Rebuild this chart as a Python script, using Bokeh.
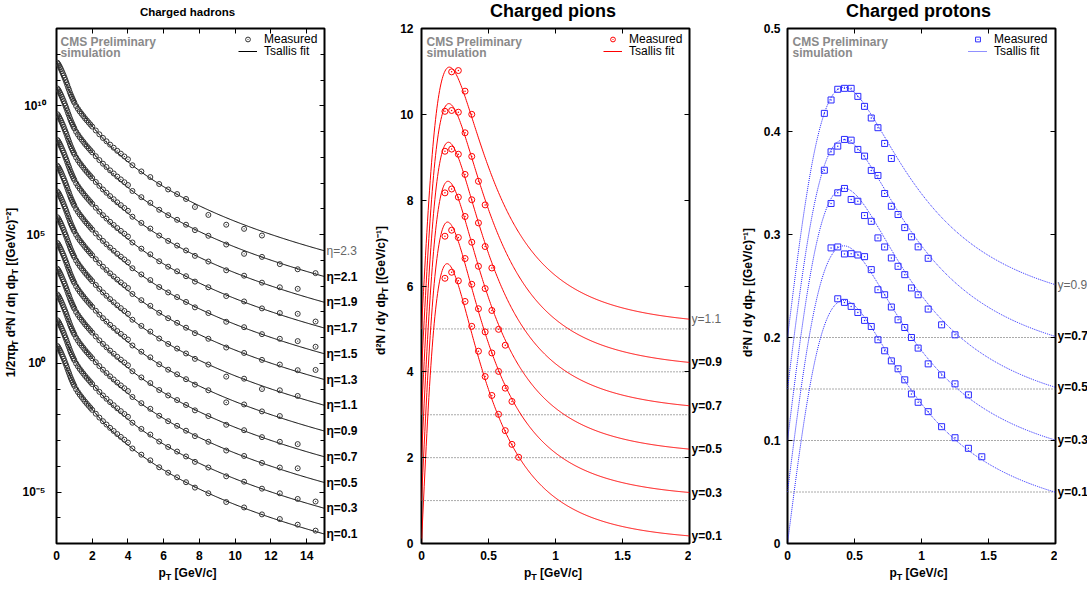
import numpy as np
from bokeh.plotting import figure
from bokeh.layouts import row, column
from bokeh.models import (Range1d, FixedTicker, LinearAxis, LogAxis, Label, Legend, LegendItem,
                          CustomJSTickFormatter)
from bokeh.embed import file_html
from bokeh.resources import INLINE

FONT = "Liberation Sans"

# ---------------- Charged hadrons (left) ----------------
hadron_eta_labels = ["η=0.1", "η=0.3", "η=0.5", "η=0.7", "η=0.9", "η=1.1",
                     "η=1.3", "η=1.5", "η=1.7", "η=1.9", "η=2.1", "η=2.3"]
hadron_decade_shift = [0, 1, 2, 3, 4, 5, 6, 7, 8, 9, 10, 11]
hadron_pt_dense = [0.05, 0.10, 0.15, 0.20, 0.25, 0.30, 0.35, 0.40, 0.45, 0.50,
                   0.55, 0.60, 0.65, 0.70, 0.75, 0.80, 0.85, 0.90, 0.95, 1.00,
                   1.1, 1.2, 1.3, 1.4, 1.5, 1.6, 1.7, 1.8, 1.9, 2.0,
                   2.2, 2.4, 2.6, 2.8, 3.0, 3.2, 3.4, 3.6, 3.8, 4.0]
hadron_log10_dense = [0.67, 0.62, 0.56, 0.49, 0.42, 0.34, 0.26, 0.18, 0.09, 0.00,
                      -0.09, -0.19, -0.29, -0.38, -0.48, -0.57, -0.65, -0.73, -0.81, -0.88,
                      -1.01, -1.12, -1.22, -1.31, -1.40, -1.49, -1.57, -1.65, -1.73, -1.81,
                      -1.96, -2.11, -2.25, -2.38, -2.51, -2.63, -2.75, -2.86, -2.97, -3.08]
hadron_pt_sparse = [4.25, 4.75, 5.25, 5.75, 6.25, 6.75, 7.25, 7.75, 8.5, 9.5,
                    10.5, 11.5, 12.5, 13.5, 14.5]
hadron_log10_sparse = [-3.31, -3.55, -3.77, -4.04, -4.25, -4.43, -4.62, -4.83, -5.05, -5.39,
                       -5.60, -5.87, -6.05, -6.27, -6.50]
N = None
# per-eta deviation (decades) of the sparse points, None = no point
hadron_dev_eta01 = [0, 0, 0, 0, 0, 0, 0, 0, 0, 0, 0, 0, 0, 0, 0]
hadron_dev_eta03 = [0, 0, 0, 0, 0, 0, 0, 0, 0, 0, 0, 0, 0, 0, 0.13]
hadron_dev_eta05 = [0, 0, 0, 0, 0, 0, 0, 0, 0, 0, 0, 0, 0, 0.19, N]
hadron_dev_eta07 = [0, 0, 0, 0, 0, 0, 0, 0, 0, 0, 0, 0, 0, 0.13, N]
hadron_dev_eta09 = [0, 0, 0, 0, 0, 0, 0, 0, 0, -0.13, 0, 0, 0, N, N]
hadron_dev_eta11 = [0, 0, 0, 0, 0, 0, 0, 0, 0, -0.13, 0, -0.13, 0, 0, N]
hadron_dev_eta13 = [0, 0, 0, 0, 0, 0, 0, 0, 0, 0, 0, 0, 0, 0, 0.24]
hadron_dev_eta15 = [0, 0, 0, 0, 0, 0, 0, 0, 0, 0, 0, 0, 0, 0.13, 0.14]
hadron_dev_eta17 = [0, 0, 0, 0, 0, 0, 0, 0, 0, 0, 0, 0, 0, 0.19, 0.12]
hadron_dev_eta19 = [0, 0, 0, 0, 0, 0, 0, 0, 0, 0, 0, 0, 0, 0.16, N]
hadron_dev_eta21 = [0, 0, 0, 0, 0, 0, 0, 0, 0, 0, -0.15, 0, -0.10, -0.08, 0]
hadron_dev_eta23 = [0, 0, 0, 0, 0, 0, 0, -0.10, -0.19, -0.23, -0.18, -0.17, N, N, N]
hadron_devs = [hadron_dev_eta01, hadron_dev_eta03, hadron_dev_eta05, hadron_dev_eta07,
               hadron_dev_eta09, hadron_dev_eta11, hadron_dev_eta13, hadron_dev_eta15,
               hadron_dev_eta17, hadron_dev_eta19, hadron_dev_eta21, hadron_dev_eta23]
hadron_fit_log10A = 0.71
hadron_fit_p0 = 1.7
hadron_fit_n = 7.4

hadron_x_ticks = [0, 2, 4, 6, 8, 10, 12, 14]
hadron_y_ticks = [1e-5, 1.0, 1e5, 1e10]
hadron_y_tick_labels = ["10⁻⁵", "10⁰", "10⁵", "10¹⁰"]

# ---------------- Charged pions (middle) ----------------
pion_labels = ["y=0.1", "y=0.3", "y=0.5", "y=0.7", "y=0.9", "y=1.1"]
pion_offset = [0, 1, 2, 3, 4, 5]
pion_pt_y01 = [0.175, 0.225, 0.275, 0.325, 0.375, 0.425, 0.475, 0.525, 0.575, 0.625, 0.675, 0.725]
pion_val_y01 = [6.18, 6.32, 6.12, 5.64, 5.06, 4.48, 3.89, 3.45, 3.01, 2.63, 2.31, 2.01]
pion_pt_y03 = [0.175, 0.225, 0.275, 0.325, 0.375, 0.425, 0.475, 0.525, 0.575, 0.625, 0.675]
pion_val_y03 = [6.16, 6.30, 6.13, 5.64, 5.04, 4.47, 3.93, 3.44, 3.01, 2.62, 2.31]
pion_pt_y05 = [0.175, 0.225, 0.275, 0.325, 0.375, 0.425, 0.475, 0.525, 0.575, 0.625]
pion_val_y05 = [6.17, 6.26, 6.07, 5.62, 5.02, 4.46, 3.94, 3.43, 2.99, 2.62]
pion_pt_y07 = [0.175, 0.225, 0.275, 0.325, 0.375, 0.425, 0.475, 0.525]
pion_val_y07 = [6.14, 6.19, 6.07, 5.60, 5.01, 4.47, 3.92, 3.42]
pion_pt_y09 = [0.175, 0.225, 0.275, 0.325, 0.375, 0.425, 0.475]
pion_val_y09 = [6.07, 6.09, 6.05, 5.57, 5.02, 4.44, 3.89]
pion_pt_y11 = [0.225, 0.275, 0.325, 0.375]
pion_val_y11 = [5.99, 6.02, 5.54, 5.00]
pion_pts = [pion_pt_y01, pion_pt_y03, pion_pt_y05, pion_pt_y07, pion_pt_y09, pion_pt_y11]
pion_vals = [pion_val_y01, pion_val_y03, pion_val_y05, pion_val_y07, pion_val_y09, pion_val_y11]
pion_fit_T = [0.135, 0.138, 0.141, 0.144, 0.147, 0.150]
pion_fit_n = 5.0
pion_fit_peak = [6.52, 6.49, 6.44, 6.35, 6.25, 6.10]
PION_MASS = 0.13957
pion_y_ticks = [0, 2, 4, 6, 8, 10, 12]

# ---------------- Charged protons (right) ----------------
proton_labels = ["y=0.1", "y=0.3", "y=0.5", "y=0.7", "y=0.9"]
proton_offset = [0.0, 0.05, 0.10, 0.15, 0.20]
proton_pt_y01 = [0.375, 0.425, 0.475, 0.525, 0.575, 0.625, 0.675, 0.725, 0.775, 0.825,
                 0.875, 0.925, 0.975, 1.05, 1.15, 1.25, 1.35, 1.45]
proton_val_y01 = [0.2376, 0.2341, 0.2302, 0.2243, 0.2166, 0.2107, 0.1978, 0.1871, 0.1773, 0.1696,
                  0.1589, 0.1452, 0.1371, 0.1280, 0.1134, 0.1027, 0.0924, 0.0842]
proton_pt_y03 = [0.325, 0.375, 0.425, 0.475, 0.525, 0.575, 0.625, 0.675, 0.725, 0.775,
                 0.825, 0.875, 0.925, 0.975, 1.05, 1.15, 1.25, 1.35]
proton_val_y03 = [0.2370, 0.2379, 0.2311, 0.2314, 0.2301, 0.2285, 0.2159, 0.1964, 0.1915, 0.1796,
                  0.1672, 0.1597, 0.1500, 0.1397, 0.1244, 0.1137, 0.1050, 0.0943]
proton_pt_y05 = [0.325, 0.375, 0.425, 0.475, 0.525, 0.575, 0.625, 0.675, 0.725, 0.775,
                 0.825, 0.875, 0.925, 0.975, 1.05, 1.15, 1.25]
proton_val_y05 = [0.2301, 0.2405, 0.2447, 0.2340, 0.2323, 0.2184, 0.2128, 0.1967, 0.1879, 0.1772,
                  0.1691, 0.1610, 0.1481, 0.1415, 0.1276, 0.1123, 0.1026]
proton_pt_y07 = [0.275, 0.325, 0.375, 0.425, 0.475, 0.525, 0.575, 0.625, 0.675, 0.725,
                 0.775, 0.825, 0.875, 0.925, 0.975, 1.05]
proton_val_y07 = [0.2124, 0.2303, 0.2358, 0.2423, 0.2416, 0.2326, 0.2261, 0.2122, 0.2073, 0.1898,
                  0.1774, 0.1694, 0.1567, 0.1477, 0.1380, 0.1269]
proton_pt_y09 = [0.275, 0.325, 0.375, 0.425, 0.475, 0.525, 0.575, 0.625, 0.675, 0.725, 0.775]
proton_val_y09 = [0.2176, 0.2306, 0.2410, 0.2419, 0.2419, 0.2341, 0.2244, 0.2131, 0.2037, 0.1884, 0.1738]
proton_pts = [proton_pt_y01, proton_pt_y03, proton_pt_y05, proton_pt_y07, proton_pt_y09]
proton_vals = [proton_val_y01, proton_val_y03, proton_val_y05, proton_val_y07, proton_val_y09]
proton_fit_T = 0.131
proton_fit_n = 2.2
proton_fit_peak = [0.236, 0.239, 0.245, 0.242, 0.243]
PROTON_MASS = 0.93827
proton_y_ticks = [0, 0.1, 0.2, 0.3, 0.4, 0.5]
proton_y_tick_labels = ["0", "0.1", "0.2", "0.3", "0.4", "0.5"]

pt_ticks = [0, 0.5, 1, 1.5, 2]
pt_tick_labels = ["0", "0.5", "1", "1.5", "2"]

# ---------------- page geometry (px) ----------------
PAGE_W = 1087
TITLE_H = 22            # title strip: page y 0..22
MID_TOP, MID_BOT = 22, 565
XLAB_H = 24             # x-label strip: page y 565..589
FRAME_W, FRAME_H = 268, 515
FRAME_TOP, FRAME_BOTTOM = 28, 543
BT, BB = FRAME_TOP - MID_TOP, MID_BOT - FRAME_BOTTOM
MID_SHIFT = 0.4         # text centre sits this many font sizes above the baseline

W_BOLD = {' ': 278, '(': 333, ')': 333, '/': 278, '[': 333, ']': 333, '-': 333, '.': 278,
          '=': 584, 'G': 778, 'e': 556, 'V': 667, 'c': 556, 'd': 611, 'N': 722, 'y': 556,
          'p': 611, 'T': 611, 'π': 600, 'η': 611, '²': 333, '¹': 333, '⁻': 333}


def text_w(s, size):
    return sum(W_BOLD.get(ch, 556) for ch in s) * size / 1000.0


def blank_fig(w, xr, yr, ylog=False, h=None, bt=0, bb=0):
    fh = h if h is not None else (MID_BOT - MID_TOP - bt - bb)
    p = figure(frame_width=w, frame_height=fh, min_border=0, min_border_left=0,
               min_border_right=0, min_border_top=bt, min_border_bottom=bb,
               x_range=Range1d(*xr), y_range=Range1d(*yr),
               y_axis_type="log" if ylog else "linear",
               x_axis_location=None, y_axis_location=None,
               output_backend="svg", toolbar_location=None)
    p.outline_line_color = None
    p.grid.visible = False
    p.background_fill_color = "white"
    p.border_fill_color = "white"
    return p


def make_fig(xr, yr, bl, br, page_frame_left, ylog=False):
    p = figure(frame_width=FRAME_W, frame_height=FRAME_H, min_border=0, min_border_left=bl,
               min_border_right=br, min_border_top=BT, min_border_bottom=BB,
               x_range=Range1d(*xr), y_range=Range1d(*yr),
               y_axis_type="log" if ylog else "linear",
               output_backend="svg", toolbar_location=None)
    p.outline_line_color = "black"
    p.outline_line_width = 2
    p.xgrid.visible = False
    p.ygrid.visible = False
    p.background_fill_color = "white"
    p.border_fill_color = "white"
    geo = dict(fl=page_frame_left, xr=xr, yr=yr, ylog=ylog)
    return p, geo


def to_data(g, px, py):
    x0, x1 = g["xr"]
    y0, y1 = g["yr"]
    x = x0 + (px - g["fl"]) / FRAME_W * (x1 - x0)
    t = (FRAME_BOTTOM - py) / FRAME_H
    if g["ylog"]:
        y = 10 ** (np.log10(y0) + t * (np.log10(y1) - np.log10(y0)))
    else:
        y = y0 + t * (y1 - y0)
    return x, y


def style_axis(ax, ticks, minor=None, overrides=None, labels=True, standoff=8):
    ax.ticker = FixedTicker(ticks=ticks, minor_ticks=minor or [])
    ax.axis_line_color = None
    ax.major_tick_in = 5
    ax.major_tick_out = 0
    ax.minor_tick_in = 4
    ax.minor_tick_out = 0
    ax.major_tick_line_color = "black"
    ax.minor_tick_line_color = "black"
    ax.major_label_text_font = FONT
    ax.major_label_text_font_style = "bold"
    ax.major_label_text_color = "black"
    ax.major_label_text_font_size = "12px"
    ax.major_label_standoff = standoff
    if overrides:
        ax.major_label_overrides = overrides
    if not labels:
        ax.formatter = CustomJSTickFormatter(code="return ''")
        ax.major_label_text_font_size = "1px"
        ax.major_label_standoff = 0


def frame_axes(p, xticks, yticks, xover=None, yover=None, yminor=None, ylog=False, ystand=8):
    style_axis(p.below[0], xticks, overrides=xover, standoff=7)
    style_axis(p.left[0], yticks, minor=yminor, overrides=yover, standoff=ystand)
    top = LinearAxis()
    style_axis(top, xticks, labels=False)
    p.add_layout(top, "above")
    right = LogAxis() if ylog else LinearAxis()
    style_axis(right, yticks, minor=yminor, labels=False)
    p.add_layout(right, "right")


def put(p, x, y, text, size=12, bold=True, color="black", align="left", angle=0.0):
    """Place a text whose visual centre line is at (x, y) (data units of p)."""
    p.add_layout(Label(x=x, y=y, text=text, text_font=FONT, text_font_size=f"{size}px",
                       text_font_style="bold" if bold else "normal",
                       text_color=color, text_align=align, text_baseline="middle",
                       angle=angle))


def hlabel(p, cx, base_y, pieces):
    total = sum(text_w(t, s) for t, s, d in pieces)
    x = cx - total / 2.0
    for t, s, d in pieces:
        lead = len(t) - len(t.lstrip(" "))
        x += text_w(" " * lead, s)
        put(p, x, base_y + d - MID_SHIFT * s, t.lstrip(" "), size=s)
        x += text_w(t.lstrip(" "), s)


def vlabel(p, base_x, cy, pieces):
    total = sum(text_w(t, s) for t, s, d in pieces)
    y = cy + total / 2.0
    for t, s, d in pieces:
        lead = len(t) - len(t.lstrip(" "))
        y -= text_w(" " * lead, s)
        put(p, base_x + d - MID_SHIFT * s, y, t.lstrip(" "), size=s, angle=np.pi / 2)
        y -= text_w(t.lstrip(" "), s)


def add_legend(p, marker_r, line_r, x_off, y_offs=(497, 485)):
    for r, lab, yo in [(marker_r, "Measured", y_offs[0]), (line_r, "Tsallis fit", y_offs[1])]:
        lg = Legend(items=[LegendItem(label=lab, renderers=[r])], location=(x_off, yo),
                    border_line_color=None, background_fill_alpha=0, padding=0, margin=0,
                    spacing=0, glyph_width=19, glyph_height=12, label_height=12,
                    label_standoff=7, label_text_font=FONT, label_text_font_size="12px",
                    label_text_color="black")
        p.add_layout(lg)


def cms_text(p, g, px):
    for base, t in [(46, "CMS Preliminary"), (57.5, "simulation")]:
        x, y = to_data(g, px, base - MID_SHIFT * 12)
        put(p, x, y, t, color="#8a8a8a")


def end_label(p, y, text, top):
    put(p, 0.0, y, text, bold=not top, color="#666666" if top else "black")


def tsallis_dndpt(pt, T, n, m):
    mt = np.sqrt(pt ** 2 + m ** 2)
    return pt * (1.0 + (mt - m) / (n * T)) ** (-n)


PT_PIECES = [("p", 12, 0), ("T", 9, 3), (" [GeV/c]", 12, 0)]

# ---------------- strips for texts outside the frames ----------------
title_strip = blank_fig(PAGE_W, (0, PAGE_W), (TITLE_H, 0), h=TITLE_H)
put(title_strip, 187, 11, "Charged hadrons", size=11.5, align="center")
put(title_strip, 552.5, 10.5, "Charged pions", size=18, align="center")
put(title_strip, 918, 10.5, "Charged protons", size=18, align="center")

xlab_strip = blank_fig(PAGE_W, (0, PAGE_W), (MID_BOT + XLAB_H, MID_BOT), h=XLAB_H)
for cx in (187, 552.5, 918):
    hlabel(xlab_strip, cx, 577, PT_PIECES)

yl1 = blank_fig(19, (0, 19), (MID_BOT, MID_TOP))
vlabel(yl1, 15.7, 286, [("1/2πp", 12, 0), ("T", 9, 2), (" d²N / dη dp", 12, 0),
                        ("T", 9, 2), (" [(GeV/c)⁻²]", 12, 0)])
yl2 = blank_fig(20, (370, 390), (MID_BOT, MID_TOP))
vlabel(yl2, 382, 284, [("d²N / dy dp", 12, 0), ("T", 9, 3), (" [(GeV/c)⁻¹]", 12, 0)])
yl3 = blank_fig(21, (736, 757), (MID_BOT, MID_TOP))
vlabel(yl3, 749, 286, [("d²N / dy dp", 12, 0), ("T", 9, 3), (" [(GeV/c)⁻¹]", 12, 0)])

# ---------------- left figure ----------------
p1, g1 = make_fig((0, 15), (1e-7, 1e13), 34, 2, 53, ylog=True)
rl1 = blank_fig(47, (0, 47), (1e-7, 1e13), ylog=True, bt=BT, bb=BB)
frame_axes(p1, hadron_x_ticks, hadron_y_ticks,
           yover=dict(zip(hadron_y_ticks, hadron_y_tick_labels)),
           yminor=[10.0 ** k for k in range(-7, 14)], ylog=True, ystand=11)
grid15 = np.linspace(0, 15, 301)
first_m = first_l = None
for i, sh in enumerate(hadron_decade_shift):
    fit = 10 ** (hadron_fit_log10A + sh) * (1 + grid15 / hadron_fit_p0) ** (-hadron_fit_n)
    lr = p1.line(grid15, fit, line_color="black", line_width=1)
    xs = list(hadron_pt_dense)
    ys = [10 ** (v + sh) for v in hadron_log10_dense]
    for pt, v, d in zip(hadron_pt_sparse, hadron_log10_sparse, hadron_devs[i]):
        if d is not None:
            xs.append(pt)
            ys.append(10 ** (v + d + sh))
    mr = p1.scatter(xs, ys, marker="circle_dot", size=5, line_color="#333333",
                    fill_color=None, line_width=1)
    if first_m is None:
        first_m, first_l = mr, lr
    end_label(rl1, fit[-1], hadron_eta_labels[i], i == len(hadron_decade_shift) - 1)
add_legend(p1, first_m, first_l, 182)
cms_text(p1, g1, 57)

# ---------------- middle figure ----------------
p2, g2 = make_fig((0, 2), (0, 12), 28, 2, 418)
rl2 = blank_fig(48, (0, 48), (0, 12), bt=BT, bb=BB)
frame_axes(p2, pt_ticks, pion_y_ticks, xover=dict(zip(pt_ticks, pt_tick_labels)))
grid2 = np.linspace(0, 2, 401)
for off in pion_offset[1:]:
    p2.line([0, 2], [off, off], line_color="#555555", line_width=1, line_dash="1 2")
first_m = first_l = None
for i, off in enumerate(pion_offset):
    shape = tsallis_dndpt(grid2, pion_fit_T[i], pion_fit_n, PION_MASS)
    fit = shape / shape.max() * pion_fit_peak[i] + off
    lr = p2.line(grid2, fit, line_color="#ff0000", line_width=1)
    mr = p2.scatter(pion_pts[i], [v + off for v in pion_vals[i]], marker="circle_dot", size=6,
                    line_color="#ff0000", fill_color=None, line_width=1)
    if first_m is None:
        first_m, first_l = mr, lr
    end_label(rl2, fit[-1], pion_labels[i], i == len(pion_offset) - 1)
add_legend(p2, first_m, first_l, 182)
cms_text(p2, g2, 423)

# ---------------- right figure ----------------
p3, g3 = make_fig((0, 2), (0, 0.5), 27, 2, 784)
rl3 = blank_fig(33, (0, 33), (0, 0.5), bt=BT, bb=BB)
frame_axes(p3, pt_ticks, proton_y_ticks, xover=dict(zip(pt_ticks, pt_tick_labels)),
           yover=dict(zip(proton_y_ticks, proton_y_tick_labels)), ystand=7)
for off in proton_offset[1:]:
    p3.line([0, 2], [off, off], line_color="#555555", line_width=1, line_dash="1 2")
first_m = first_l = None
for i, off in enumerate(proton_offset):
    shape = tsallis_dndpt(grid2, proton_fit_T, proton_fit_n, PROTON_MASS)
    fit = shape / shape.max() * proton_fit_peak[i] + off
    lr = p3.line(grid2, fit, line_color="#2020ff", line_width=1, line_dash="1 1")
    mr = p3.scatter(proton_pts[i], [v + off for v in proton_vals[i]], marker="square_dot",
                    size=6, line_color="#2a2aff", fill_color=None, line_width=1)
    if first_m is None:
        first_m, first_l = mr, lr
    end_label(rl3, fit[-1], proton_labels[i], i == len(proton_offset) - 1)
add_legend(p3, first_m, first_l, 181)
cms_text(p3, g3, 789)

mid = row(yl1, p1, rl1, yl2, p2, rl2, yl3, p3, rl3)
layout = column(title_strip, mid, xlab_strip)
open("out.html", "w").write(file_html(layout, INLINE))
